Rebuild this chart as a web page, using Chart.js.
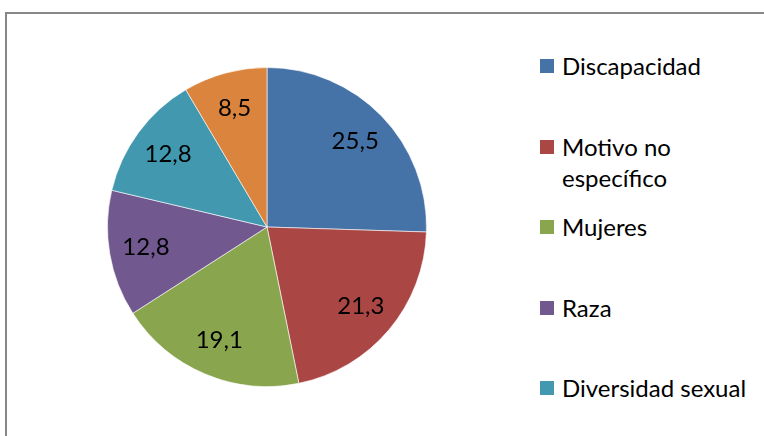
<!DOCTYPE html>
<html>
<head>
<meta charset="utf-8">
<script src="https://cdn.jsdelivr.net/npm/chart.js@4"></script>
<style>
  body { margin: 0; background: #fff; width: 764px; height: 436px; overflow: hidden; position: relative; font-family: Lato, "Open Sans", sans-serif; }
  #frame { position: absolute; left: 5px; top: 12px; width: 800px; height: 500px; border: 2px solid #878787; box-sizing: border-box; }
  #pieBox { position: absolute; left: 107px; top: 67px; width: 320px; height: 320px; }
  #legend { position: absolute; left: 540px; top: 0; }
  .item { position: absolute; left: 0; width: 230px; font-size: 24px; line-height: 31px; color: #000; }
  .sw { position: absolute; left: 0; width: 14px; height: 14px; }
  .txt { position: absolute; left: 22px; white-space: nowrap; }
</style>
</head>
<body>
<div id="frame"></div>
<div id="pieBox"><canvas id="myChart"></canvas></div>
<div id="legend"></div>
<script>
// data
var categories = ["Discapacidad", ["Motivo no", "específico"], "Mujeres", "Raza", "Diversidad sexual", ""];
var values = [25.5, 21.3, 19.1, 12.8, 12.8, 8.5];
var colors = ["#4572A7", "#AA4643", "#89A54E", "#71588F", "#4198AF", "#DB843D"];
var legendRows = [66, 147, 227, 308, 388]; // y centre of each legend entry

// legend (html, the last slice has no visible entry)
var $legend = document.getElementById("legend");
for (var i = 0; i < categories.length; i++) {
    if (categories[i] === "") continue;
    var lines = Array.isArray(categories[i]) ? categories[i] : [categories[i]];
    var item = document.createElement("div");
    item.className = "item";
    item.style.top = (legendRows[i] - 16) + "px";
    item.innerHTML = '<div class="sw" style="top:9px;background:' + colors[i] + '"></div>' +
        '<div class="txt">' + lines.join("<br>") + '</div>';
    $legend.appendChild(item);
}

// value labels inside the slices
var sliceLabels = {
    id: "sliceLabels",
    afterDatasetsDraw: function (chart) {
        var ctx = chart.ctx;
        var meta = chart.getDatasetMeta(0);
        ctx.save();
        ctx.font = "24px Lato, 'Open Sans', sans-serif";
        ctx.fillStyle = "#000";
        ctx.textAlign = "center";
        ctx.textBaseline = "middle";
        meta.data.forEach(function (arc, i) {
            var mid = (arc.startAngle + arc.endAngle) / 2;
            var r = arc.outerRadius * 0.77;
            var txt = values[i].toFixed(1).replace(".", ",");
            ctx.fillText(txt, arc.x + Math.cos(mid) * r, arc.y + Math.sin(mid) * r);
        });
        ctx.restore();
    }
};

var ctx = document.getElementById("myChart").getContext("2d");
var myChart = new Chart(ctx, {
    type: "pie",
    data: {
        labels: categories,
        datasets: [{
            data: values,
            backgroundColor: colors,
            borderColor: "rgba(255,255,255,0.6)",
            borderWidth: 1
        }]
    },
    options: {
        responsive: true,
        maintainAspectRatio: false,
        animation: false,
        layout: { padding: 0 },
        plugins: {
            legend: { display: false },
            tooltip: { enabled: false }
        }
    },
    plugins: [sliceLabels]
});
</script>
</body>
</html>
